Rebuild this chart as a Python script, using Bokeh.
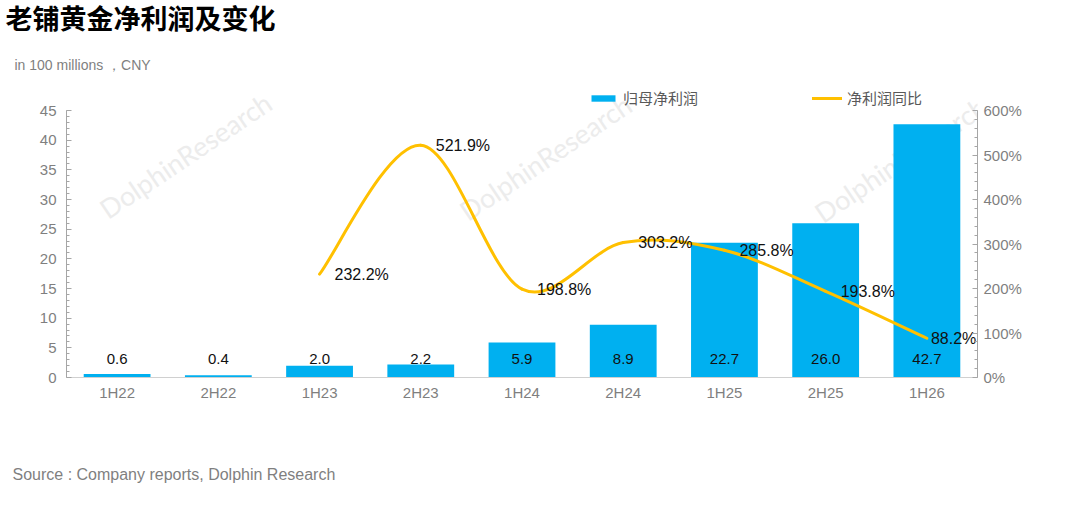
import numpy as np
from bokeh.plotting import figure
from bokeh.models import (Range1d, LinearAxis, FixedTicker, ColumnDataSource, Label,
                          Legend, LegendItem, Title)
from bokeh.core.properties import value
from bokeh.embed import file_html
from bokeh.resources import INLINE

# ---------------- data ----------------
categories = ["1H22", "2H22", "1H23", "2H23", "1H24", "2H24", "1H25", "2H25", "1H26"]
net_profit = [0.6, 0.4, 2.0, 2.2, 5.9, 8.9, 22.7, 26.0, 42.7]
yoy_categories = ["1H23", "2H23", "1H24", "2H24", "1H25", "2H25", "1H26"]
yoy_pct = [232.2, 521.9, 198.8, 303.2, 285.8, 193.8, 88.2]
left_ticks = [0, 5, 10, 15, 20, 25, 30, 35, 40, 45]
right_ticks = [0, 100, 200, 300, 400, 500, 600]

title_text = "老铺黄金净利润及变化"
unit_text = "in 100 millions ，CNY"
source_text = "Source : Company reports, Dolphin Research"
bar_name = "归母净利润"
line_name = "净利润同比"
watermark = "DolphinResearch"

# ---------------- style ----------------
BAR_C = "#00B0F0"
LINE_C = "#FFC000"
GRAY = "#7f7f7f"
AX = "#a6a6a6"
LAT = "Liberation Sans"
CJK = "Noto Sans CJK SC"
TITLE_FONT = "Liberation Sans, Noto Sans CJK SC"
line_label_dx = [15, 15, 15, 15, 15, 15, 4]

W, H = 1080, 514
LEFT_MAX = 49.05
RIGHT_MAX = LEFT_MAX / 45 * 600

p = figure(width=W, height=H, output_backend="svg", toolbar_location=None,
           x_range=Range1d(0, 9), y_range=Range1d(0, LEFT_MAX),
           min_border_left=66, min_border_right=103, min_border_top=86,
           min_border_bottom=137)
p.outline_line_color = None
p.title.visible = False
p.xgrid.visible = False
p.ygrid.visible = False
p.background_fill_color = "white"
p.border_fill_color = "white"
p.extra_y_ranges = {"pct": Range1d(0, RIGHT_MAX)}

# watermarks (under everything, inside the plot area)
wm_pos = [(119, 222), (479, 220), (834, 218)]
for wx, wy in wm_pos:
    p.add_layout(Label(x=wx, y=wy, x_units="screen", y_units="screen", text=watermark,
                       angle=34, angle_units="deg", text_align="center",
                       text_baseline="middle", text_font="Lato",
                       text_font_size="27px", text_color="#ececec", level="underlay"))

# bars
xs = [categories.index(c) + 0.5 for c in categories]
bar_src = ColumnDataSource(dict(x=xs, v=net_profit, base=[0] * len(xs),
                                lab=[f"{v:.1f}" for v in net_profit]))
bars = p.vbar(x="x", top="v", bottom="base", width=0.66, source=bar_src,
              fill_color=BAR_C, line_color=None)
p.text(x="x", y="base", text="lab", source=bar_src, y_offset=-19,
       text_align="center", text_baseline="middle", text_font=value(LAT),
       text_font_size="15px", text_color="#111111")

# smooth line (Catmull-Rom -> cubic bezier through the data points)
lx = np.array([categories.index(c) + 0.5 for c in yoy_categories])
ly = np.array(yoy_pct, dtype=float)
n = len(lx)
prv = np.r_[0, np.arange(n - 1)]
nxt = np.r_[np.arange(1, n), n - 1]
tx = (lx[nxt] - lx[prv]) / 6.0
ty = (ly[nxt] - ly[prv]) / 6.0
bz = ColumnDataSource(dict(
    x0=lx[:-1], y0=ly[:-1], x1=lx[1:], y1=ly[1:],
    cx0=lx[:-1] + tx[:-1], cy0=ly[:-1] + ty[:-1],
    cx1=lx[1:] - tx[1:], cy1=ly[1:] - ty[1:]))
curve = p.bezier(x0="x0", y0="y0", x1="x1", y1="y1", cx0="cx0", cy0="cy0",
                 cx1="cx1", cy1="cy1", source=bz, y_range_name="pct",
                 line_color=LINE_C, line_width=3, line_cap="round")
line_src = ColumnDataSource(dict(x=lx, y=ly, dx=line_label_dx,
                                 lab=[f"{v:.1f}%" for v in yoy_pct]))
p.text(x="x", y="y", text="lab", source=line_src, y_range_name="pct", x_offset="dx",
       text_align="left", text_baseline="middle", text_font=value(LAT),
       text_font_size="16px", text_color="#111111")

# x axis
xa = p.xaxis[0]
xa.ticker = FixedTicker(ticks=xs)
xa.major_label_overrides = {x: c for x, c in zip(xs, categories)}
xa.major_tick_line_color = None
xa.minor_tick_line_color = None
xa.major_tick_out = 0
xa.major_tick_in = 0
xa.minor_tick_out = 0
xa.axis_line_color = "#d0d0d0"
xa.major_label_standoff = 6
xa.major_label_text_font = LAT
xa.major_label_text_font_size = "15px"
xa.major_label_text_color = GRAY

# left axis
ya = p.yaxis[0]
ya.ticker = FixedTicker(ticks=left_ticks, minor_ticks=list(range(0, 46)))
ya.bounds = (0, 45)
ya.major_tick_in = 5
ya.major_tick_out = 0
ya.minor_tick_in = 3
ya.minor_tick_out = 0
ya.axis_line_color = AX
ya.major_tick_line_color = AX
ya.minor_tick_line_color = AX
ya.major_label_standoff = 10
ya.major_label_text_font = LAT
ya.major_label_text_font_size = "15px"
ya.major_label_text_color = GRAY

# right axis
ra = LinearAxis(y_range_name="pct",
                ticker=FixedTicker(ticks=right_ticks, minor_ticks=list(range(0, 601, 20))),
                bounds=(0, 600))
ra.major_label_overrides = {t: f"{t}%" for t in right_ticks}
ra.major_tick_in = 5
ra.major_tick_out = 0
ra.minor_tick_in = 3
ra.minor_tick_out = 0
ra.axis_line_color = AX
ra.major_tick_line_color = AX
ra.minor_tick_line_color = AX
ra.major_label_standoff = 6
ra.major_label_text_font = LAT
ra.major_label_text_font_size = "15px"
ra.major_label_text_color = GRAY
p.add_layout(ra, "right")

# legends
def make_legend(label, rend, loc):
    lg = Legend(items=[LegendItem(label=label, renderers=[rend])], location=loc,
                orientation="horizontal", glyph_width=30, glyph_height=8,
                label_height=16, label_standoff=5, padding=0, margin=0, spacing=0,
                border_line_color=None, background_fill_alpha=0,
                label_text_font=CJK, label_text_font_size="15px",
                label_text_color="#595959")
    p.add_layout(lg, "center")

make_legend(bar_name, bars, (522, 269))
make_legend(line_name, curve, (746, 269))

# titles (outside the plot area), separated by empty spacer titles
def spacer(gap):
    return Title(text=" ", text_font_size="1px", standoff=gap, text_color="white")

p.add_layout(spacer(11), "above")
p.add_layout(Title(text=unit_text, align="left", offset=-52, standoff=0,
                   text_font=LAT, text_font_size="14px", text_font_style="normal",
                   text_color=GRAY), "above")
p.add_layout(spacer(17), "above")
p.add_layout(Title(text=title_text, align="left", offset=-61, standoff=0,
                   text_font=TITLE_FONT, text_font_size="27px", text_font_style="bold",
                   text_color="#000000"), "above")

p.add_layout(spacer(57), "below")
p.add_layout(Title(text=source_text, align="left", offset=-54, standoff=0,
                   text_font=LAT, text_font_size="16px", text_font_style="normal",
                   text_color=GRAY), "below")

open("out.html", "w").write(file_html(p, INLINE))
